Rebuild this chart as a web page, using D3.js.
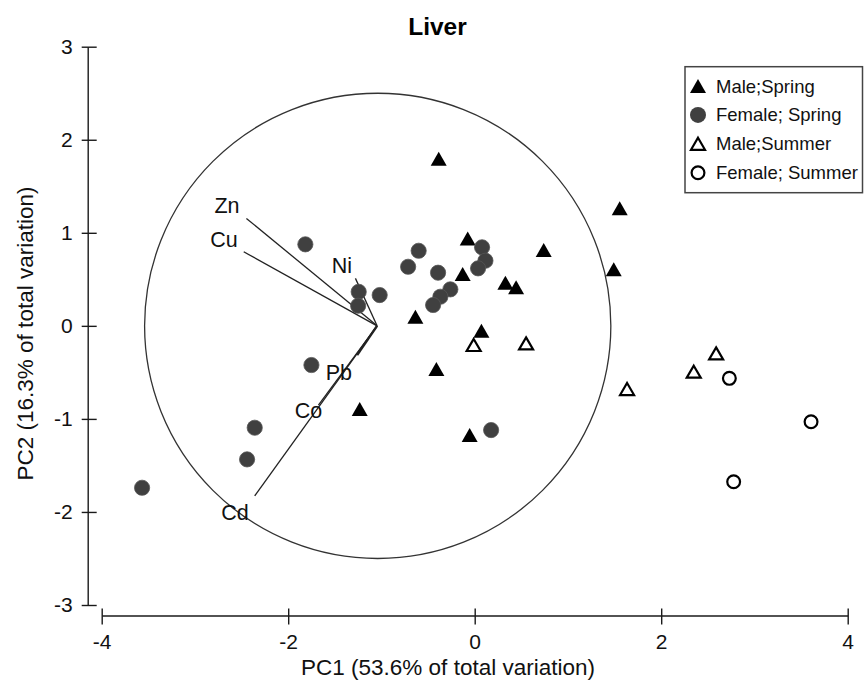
<!DOCTYPE html>
<html>
<head>
<meta charset="utf-8">
<script src="https://cdn.jsdelivr.net/npm/d3@7"></script>
<style>
  html, body { margin: 0; padding: 0; background: #fff; }
  svg { display: block; font-family: Arial, 'Liberation Sans', Helvetica, sans-serif; }
</style>
</head>
<body>
<svg id="chart" width="864" height="681"></svg>
<script>
// ── Data (PC scores) ──
const maleSpringX = [-0.386, 1.555, -0.075, 0.740, 1.491, -0.129, 0.329, 0.444, -0.636, 0.072, -0.411, -1.233, -0.054];
const maleSpringY = [1.796, 1.263, 0.940, 0.815, 0.607, 0.557, 0.463, 0.414, 0.098, -0.053, -0.464, -0.894, -1.174];

const femaleSpringX = [-1.816, -0.601, -0.714, -0.393, 0.079, 0.115, 0.036, -0.261, -0.368, -0.446, -1.244, -1.019, -1.250, 0.176, -1.751, -2.359, -2.441, -3.567];
const femaleSpringY = [0.876, 0.807, 0.635, 0.571, 0.844, 0.700, 0.618, 0.392, 0.313, 0.224, 0.366, 0.331, 0.216, -1.120, -0.421, -1.095, -1.435, -1.740];

const maleSummerX = [-0.011, 0.551, 1.634, 2.349, 2.589];
const maleSummerY = [-0.206, -0.188, -0.679, -0.493, -0.296];

const femaleSummerX = [2.731, 3.607, 2.777];
const femaleSummerY = [-0.564, -1.031, -1.675];

// loading vectors (drawn from a shared origin) and their label anchors
const metals = ['Zn', 'Cu', 'Ni', 'Pb', 'Co', 'Cd'];
const vecEndX = [-2.448, -2.477, -1.279, -1.261, -1.676, -2.359];
const vecEndY = [1.155, 0.796, 0.510, -0.314, -0.851, -1.826];
const labelX = [-2.522, -2.541, -1.315, -1.315, -1.636, -2.424];
const labelY = [1.212, 0.844, 0.564, -0.578, -0.991, -2.087];
const vecOrigin = [-1.047, 0];
const circleCenter = [-1.04, 0];
const circleRadius = 2.5;

const xTicks = [-4, -2, 0, 2, 4];
const yTicks = [-3, -2, -1, 0, 1, 2, 3];

const seriesNames = ['Male;Spring', 'Female; Spring', 'Male;Summer', 'Female; Summer'];

// ── Layout ──
const svg = d3.select('#chart');
const x = d3.scaleLinear().domain([-4, 4]).range([101.7, 847.7]);
const y = d3.scaleLinear().domain([-3, 3]).range([605, 46.7]);
const xAxisY = 615.5;
const yAxisX = 87.7;
const INK = '#1a1a1a';
const DOT = '#404040';

// plain hyphen for negatives, as in the original figure
const fmt = (v) => String(v);

// triangle path centred on its bounding box
const tri = (w, h) => `M0,${-h / 2}L${w / 2},${h / 2}L${-w / 2},${h / 2}Z`;

/* ── Title ── */
svg.append('text')
  .attr('x', 437.5).attr('y', 35)
  .attr('text-anchor', 'middle')
  .attr('font-size', 24.5).attr('font-weight', 700)
  .attr('fill', '#000')
  .text('Liver');

/* ── Axes ── */
svg.append('g')
  .attr('transform', `translate(${yAxisX},0)`)
  .call(d3.axisLeft(y).tickValues(yTicks).tickSize(6).tickSizeOuter(0).tickPadding(9).tickFormat(fmt))
  .call((a) => a.select('.domain').attr('stroke', INK).attr('stroke-width', 1.4))
  .call((a) => a.selectAll('.tick line').attr('x1', 9).attr('stroke', INK).attr('stroke-width', 1.4))
  .call((a) => a.selectAll('.tick text').attr('font-size', 21).attr('fill', '#111').attr('font-family', null));

svg.append('g')
  .attr('transform', `translate(0,${xAxisY})`)
  .call(d3.axisBottom(x).tickValues(xTicks).tickSize(9).tickSizeOuter(0).tickPadding(10).tickFormat(fmt))
  .call((a) => a.select('.domain').attr('stroke', INK).attr('stroke-width', 1.4))
  .call((a) => a.selectAll('.tick line').attr('y1', -7).attr('stroke', INK).attr('stroke-width', 1.4))
  .call((a) => a.selectAll('.tick text').attr('font-size', 21).attr('fill', '#111').attr('font-family', null));

svg.append('text')
  .attr('x', 448).attr('y', 675)
  .attr('text-anchor', 'middle')
  .attr('font-size', 22.5).attr('fill', '#111')
  .text('PC1 (53.6% of total variation)');

svg.append('text')
  .attr('transform', 'translate(33,333.5) rotate(-90)')
  .attr('text-anchor', 'middle')
  .attr('font-size', 22.5).attr('fill', '#111')
  .text('PC2 (16.3% of total variation)');

/* ── Correlation circle ── */
svg.append('ellipse')
  .attr('cx', x(circleCenter[0])).attr('cy', y(circleCenter[1]))
  .attr('rx', x(circleCenter[0] + circleRadius) - x(circleCenter[0]))
  .attr('ry', y(circleCenter[1]) - y(circleCenter[1] + circleRadius))
  .attr('fill', 'none').attr('stroke', '#333').attr('stroke-width', 1.3);

/* ── Loading vectors ── */
const vecs = metals.map((m, i) => ({ m, ex: vecEndX[i], ey: vecEndY[i], lx: labelX[i], ly: labelY[i] }));
svg.append('g').selectAll('line')
  .data(vecs)
  .join('line')
  .attr('x1', x(vecOrigin[0])).attr('y1', y(vecOrigin[1]))
  .attr('x2', (d) => x(d.ex)).attr('y2', (d) => y(d.ey))
  .attr('stroke', '#222')
  .attr('stroke-width', (d) => d.m === 'Pb' ? 2.4 : 1.3);

/* ── Points ── */
const pts = (xs, ys) => xs.map((v, i) => ({ px: v, py: ys[i] }));
const gPts = svg.append('g');

gPts.selectAll('path.ms')
  .data(pts(maleSpringX, maleSpringY))
  .join('path').attr('class', 'ms')
  .attr('transform', (d) => `translate(${x(d.px)},${y(d.py)})`)
  .attr('d', tri(16, 14))
  .attr('fill', '#000');

gPts.selectAll('circle.fs')
  .data(pts(femaleSpringX, femaleSpringY))
  .join('circle').attr('class', 'fs')
  .attr('cx', (d) => x(d.px)).attr('cy', (d) => y(d.py))
  .attr('r', 7.6)
  .attr('fill', DOT).attr('stroke', '#555').attr('stroke-width', 0.8);

gPts.selectAll('path.mu')
  .data(pts(maleSummerX, maleSummerY))
  .join('path').attr('class', 'mu')
  .attr('transform', (d) => `translate(${x(d.px)},${y(d.py)})`)
  .attr('d', tri(14, 12))
  .attr('fill', '#fff').attr('stroke', '#000').attr('stroke-width', 2.2)
  .attr('stroke-linejoin', 'miter');

gPts.selectAll('circle.fu')
  .data(pts(femaleSummerX, femaleSummerY))
  .join('circle').attr('class', 'fu')
  .attr('cx', (d) => x(d.px)).attr('cy', (d) => y(d.py))
  .attr('r', 6.4)
  .attr('fill', '#fff').attr('stroke', '#000').attr('stroke-width', 2.2);

/* ── Vector labels (drawn over points) ── */
svg.append('g').selectAll('text')
  .data(vecs)
  .join('text')
  .attr('x', (d) => x(d.lx)).attr('y', (d) => y(d.ly))
  .attr('text-anchor', 'end')
  .attr('font-size', 21.5).attr('fill', '#111')
  .text((d) => d.m);

/* ── Legend ── */
const legend = svg.append('g');
legend.append('rect')
  .attr('x', 685).attr('y', 66.7).attr('width', 177.5).attr('height', 126)
  .attr('fill', '#fff').attr('stroke', '#444').attr('stroke-width', 1.5);

const rows = legend.selectAll('g.row')
  .data(seriesNames)
  .join('g').attr('class', 'row')
  .attr('transform', (d, i) => `translate(698,${86 + i * 28.9})`);

rows.each(function (d, i) {
  const r = d3.select(this);
  if (i === 0) r.append('path').attr('d', tri(16, 14)).attr('fill', '#000');
  if (i === 1) r.append('circle').attr('r', 8).attr('fill', DOT);
  if (i === 2) r.append('path').attr('d', tri(14, 12)).attr('fill', '#fff').attr('stroke', '#000').attr('stroke-width', 2.2);
  if (i === 3) r.append('circle').attr('r', 6.4).attr('fill', '#fff').attr('stroke', '#000').attr('stroke-width', 2.2);
});

rows.append('text')
  .attr('x', 18).attr('y', 6.5)
  .attr('font-size', 18.5).attr('fill', '#111')
  .text((d) => d);
</script>
</body>
</html>
